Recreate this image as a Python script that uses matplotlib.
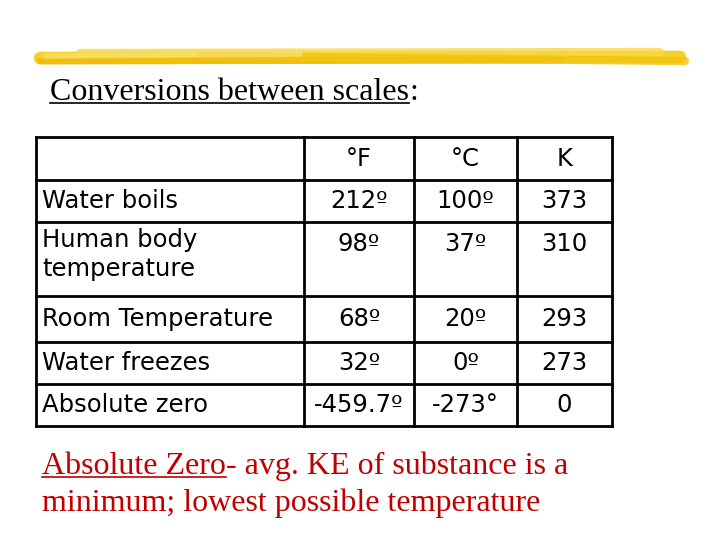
import matplotlib
matplotlib.use("Agg")
import matplotlib.pyplot as plt

header = ["", "°F", "°C", "K"]
rows = ["Water boils", "Human body\ntemperature", "Room Temperature", "Water freezes", "Absolute zero"]
fahr = ["212º", "98º", "68º", "32º", "-459.7º"]
cels = ["100º", "37º", "20º", "0º", "-273°"]
kelv = ["373", "310", "293", "273", "0"]

fig = plt.figure(figsize=(7.2, 5.4), dpi=100)
ax = fig.add_axes([0, 0, 1, 1])
ax.set_xlim(0, 720); ax.set_ylim(540, 0); ax.axis("off")

# brush stroke
for (x0, x1, y0, y1, lw, c, a) in [(40, 680, 58, 57, 9, "#f5c800", 0.85), (80, 660, 53, 52, 6, "#f8d848", 0.8),
                                   (40, 560, 61, 60, 5, "#e9b500", 0.6), (200, 685, 56, 61, 6, "#f2c410", 0.8),
                                   (45, 300, 56, 54, 4, "#fbe070", 0.7)]:
    ax.plot([x0, x1], [y0, y1], color=c, lw=lw, alpha=a, solid_capstyle="round")

serif = "Liberation Serif"
sans = "DejaVu Sans"
fig.canvas.draw()
r = fig.canvas.get_renderer()

def underlined(x, y, s, color, fs):
    t = ax.text(x, y, s, fontsize=fs, family=serif, color=color, va="baseline")
    bb = t.get_window_extent(r).transformed(ax.transData.inverted())
    x1 = max(bb.x0, bb.x1)
    ax.plot([x, x1], [y + 3, y + 3], color=color, lw=1.2)
    return x1

x1 = underlined(50, 100, "Conversions between scales", "black", 23)
ax.text(x1 + 1, 100, ":", fontsize=23, family=serif, va="baseline")

xs = [36, 304, 414, 517, 612]
ys = [137, 180, 222, 296, 342, 384, 426]
for x in xs:
    ax.plot([x, x], [ys[0], ys[-1]], color="black", lw=2)
for y in ys:
    ax.plot([xs[0], xs[-1]], [y, y], color="black", lw=2)

fs = 17.5
cx = [(xs[i] + xs[i + 1]) / 2 for i in range(1, 4)]
for j, h in enumerate(header[1:]):
    ax.text(cx[j], 159, h, fontsize=fs, family=sans, ha="center", va="center")
for i, rw in enumerate(rows):
    top, bot = ys[i + 1], ys[i + 2]
    yc = (top + bot) / 2 if i != 1 else top + 22
    if i == 1:
        ax.text(42, top + 6, rw, fontsize=fs, family=sans, va="top", linespacing=1.25)
    else:
        ax.text(42, yc, rw, fontsize=fs, family=sans, va="center")
    for j, v in enumerate([fahr[i], cels[i], kelv[i]]):
        ax.text(cx[j], yc, v, fontsize=fs, family=sans, ha="center", va="center")

red = "#c00000"
x1 = underlined(42, 474, "Absolute Zero", red, 23)
ax.text(x1, 474, "- avg. KE of substance is a", fontsize=23, family=serif, color=red, va="baseline")
ax.text(42, 511, "minimum; lowest possible temperature", fontsize=23, family=serif, color=red, va="baseline")

fig.savefig("out.png", dpi=100)
